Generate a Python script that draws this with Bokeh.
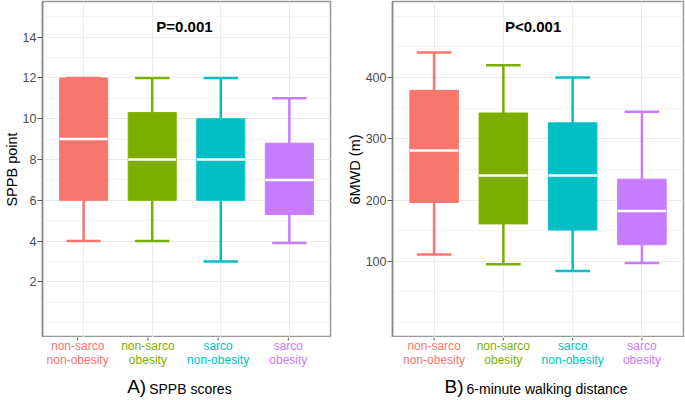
from bokeh.plotting import figure
from bokeh.layouts import row, column
from bokeh.models import Range1d, FixedTicker, Label, ColumnDataSource, Grid
from bokeh.embed import file_html
from bokeh.resources import INLINE
import numpy as np

FONT = "Liberation Sans"

# ---------------- data ----------------
groups = ["non-sarco\nnon-obesity", "non-sarco\nobesity", "sarco\nnon-obesity", "sarco\nobesity"]
colors = ["#F8766D", "#7CAE00", "#00BFC4", "#C77CFF"]

# SPPB scores (whisker low, Q1, median, Q3, whisker high)
sppb_low = [4, 4, 3, 3.9]
sppb_q1 = [6, 6, 6, 5.3]
sppb_med = [9, 8, 8, 7]
sppb_q3 = [12, 10.3, 10, 8.8]
sppb_high = [12, 12, 12, 11]

# 6MWD (m)
mwd_low = [111, 95, 84, 97]
mwd_q1 = [196, 161, 151, 127]
mwd_med = [281, 240, 240, 182]
mwd_q3 = [379, 342, 326, 234]
mwd_high = [441, 420, 400, 344]

sppb_ticks = [2, 4, 6, 8, 10, 12, 14]
sppb_minor = list(range(0, 16))
mwd_ticks = [100, 200, 300, 400]
mwd_minor = list(range(0, 501, 50))

TOP_H = 337
BOT_H = 63


def make_panel(low, q1, med, q3, high, yrange, ticks, minor, ylabel,
               ptext, p_xy, tag, sub, sub_x, width, min_left, min_right):
    xr = Range1d(0.4, 4.6)
    p = figure(width=width, height=TOP_H, output_backend="svg", toolbar_location=None,
               x_range=xr, y_range=Range1d(*yrange), x_axis_location=None,
               min_border_left=min_left, min_border_right=min_right,
               min_border_top=1, min_border_bottom=0)
    p.background_fill_color = "white"
    p.border_fill_color = "white"
    p.outline_line_color = "#999999"
    p.outline_line_width = 1.5

    xs = np.arange(1, len(groups) + 1)
    p.add_layout(Grid(dimension=0, ticker=FixedTicker(ticks=list(xs)),
                      grid_line_color="#EBEBEB"))

    src = ColumnDataSource(dict(x=xs, low=low, q1=q1, med=med, q3=q3, high=high,
                                color=colors,
                                x0=xs - 0.35, x1=xs + 0.35,
                                c0=xs - 0.25, c1=xs + 0.25))

    # whiskers
    p.segment(x0="x", x1="x", y0="q3", y1="high", line_color="color", line_width=2.5, source=src)
    p.segment(x0="x", x1="x", y0="low", y1="q1", line_color="color", line_width=2.5, source=src)
    p.segment(x0="c0", x1="c1", y0="high", y1="high", line_color="color", line_width=2.5, source=src)
    p.segment(x0="c0", x1="c1", y0="low", y1="low", line_color="color", line_width=2.5, source=src)
    # boxes
    p.vbar(x="x", width=0.7, bottom="q1", top="q3", fill_color="color",
           line_color="color", line_width=1, source=src)
    # medians
    p.segment(x0="x0", x1="x1", y0="med", y1="med", line_color="white", line_width=2.5, source=src)

    # y axis
    yax = p.yaxis[0]
    yax.ticker = FixedTicker(ticks=ticks, minor_ticks=minor)
    yax.axis_label = ylabel
    yax.axis_label_text_font = FONT
    yax.axis_label_text_font_style = "normal"
    yax.axis_label_text_font_size = "14.5px"
    yax.axis_label_text_color = "black"
    yax.axis_label_standoff = 0
    yax.major_label_text_font = FONT
    yax.major_label_text_font_size = "12.5px"
    yax.major_label_text_color = "#4D4D4D"
    yax.major_label_standoff = 1
    yax.major_tick_out = 5
    yax.major_tick_in = 0
    yax.major_tick_line_color = "#555555"
    yax.minor_tick_line_color = None
    yax.axis_line_color = "#888888"
    yax.axis_line_width = 1.5

    p.ygrid.grid_line_color = "#EBEBEB"
    p.ygrid.minor_grid_line_color = "#F4F4F4"

    # p-value
    p.add_layout(Label(x=p_xy[0], y=p_xy[1], text=ptext, text_align="center",
                       text_baseline="middle", text_font=FONT, text_font_size="15px",
                       text_font_style="bold", text_color="black"))

    # ---- strip below the panel: colored category labels and caption ----
    q = figure(width=width, height=BOT_H, output_backend="svg", toolbar_location=None,
               x_range=xr, y_range=Range1d(-BOT_H, 0),
               x_axis_location=None, y_axis_location=None,
               min_border_left=min_left, min_border_right=min_right,
               min_border_top=0, min_border_bottom=0)
    q.outline_line_color = None
    q.background_fill_color = "white"
    q.border_fill_color = "white"
    q.grid.visible = False

    # x tick marks under the axis line
    q.segment(x0=xs, x1=xs, y0=[0] * len(xs), y1=[-3] * len(xs),
              line_color="#555555", line_width=1)
    line_y = [-8.1, -22.4]
    for i, (g, c) in enumerate(zip(groups, colors)):
        for j, line in enumerate(g.split("\n")):
            q.add_layout(Label(x=i + 1, y=line_y[j], text=line, text_align="center",
                               text_baseline="middle", text_font=FONT,
                               text_font_size="12px", text_color=c))
    q.add_layout(Label(x=sub_x, y=-49.4, text=tag, text_align="right",
                       text_baseline="middle", text_font=FONT, text_font_size="19px",
                       text_color="black", x_offset=-1))
    q.add_layout(Label(x=sub_x, y=-51.1, text=sub, text_align="left",
                       text_baseline="middle", text_font=FONT, text_font_size="14px",
                       text_color="black", x_offset=2))
    return p, q


p1, q1 = make_panel(sppb_low, sppb_q1, sppb_med, sppb_q3, sppb_high,
                    (-0.73, 15.75), sppb_ticks, sppb_minor, "SPPB point",
                    "P=0.001", (2.47, 14.5),
                    "A)", "SPPB scores", 1.99, 343, 35, 13)
p2, q2 = make_panel(mwd_low, mwd_q1, mwd_med, mwd_q3, mwd_high,
                    (-24.5, 524.1), mwd_ticks, mwd_minor, "6MWD (m)",
                    "P<0.001", (2.43, 482.6),
                    "B)", "6-minute walking distance", 1.44, 342, 49, 2)

layout = column(row(p1, p2), row(q1, q2))
open("out.html", "w").write(file_html(layout, INLINE))
